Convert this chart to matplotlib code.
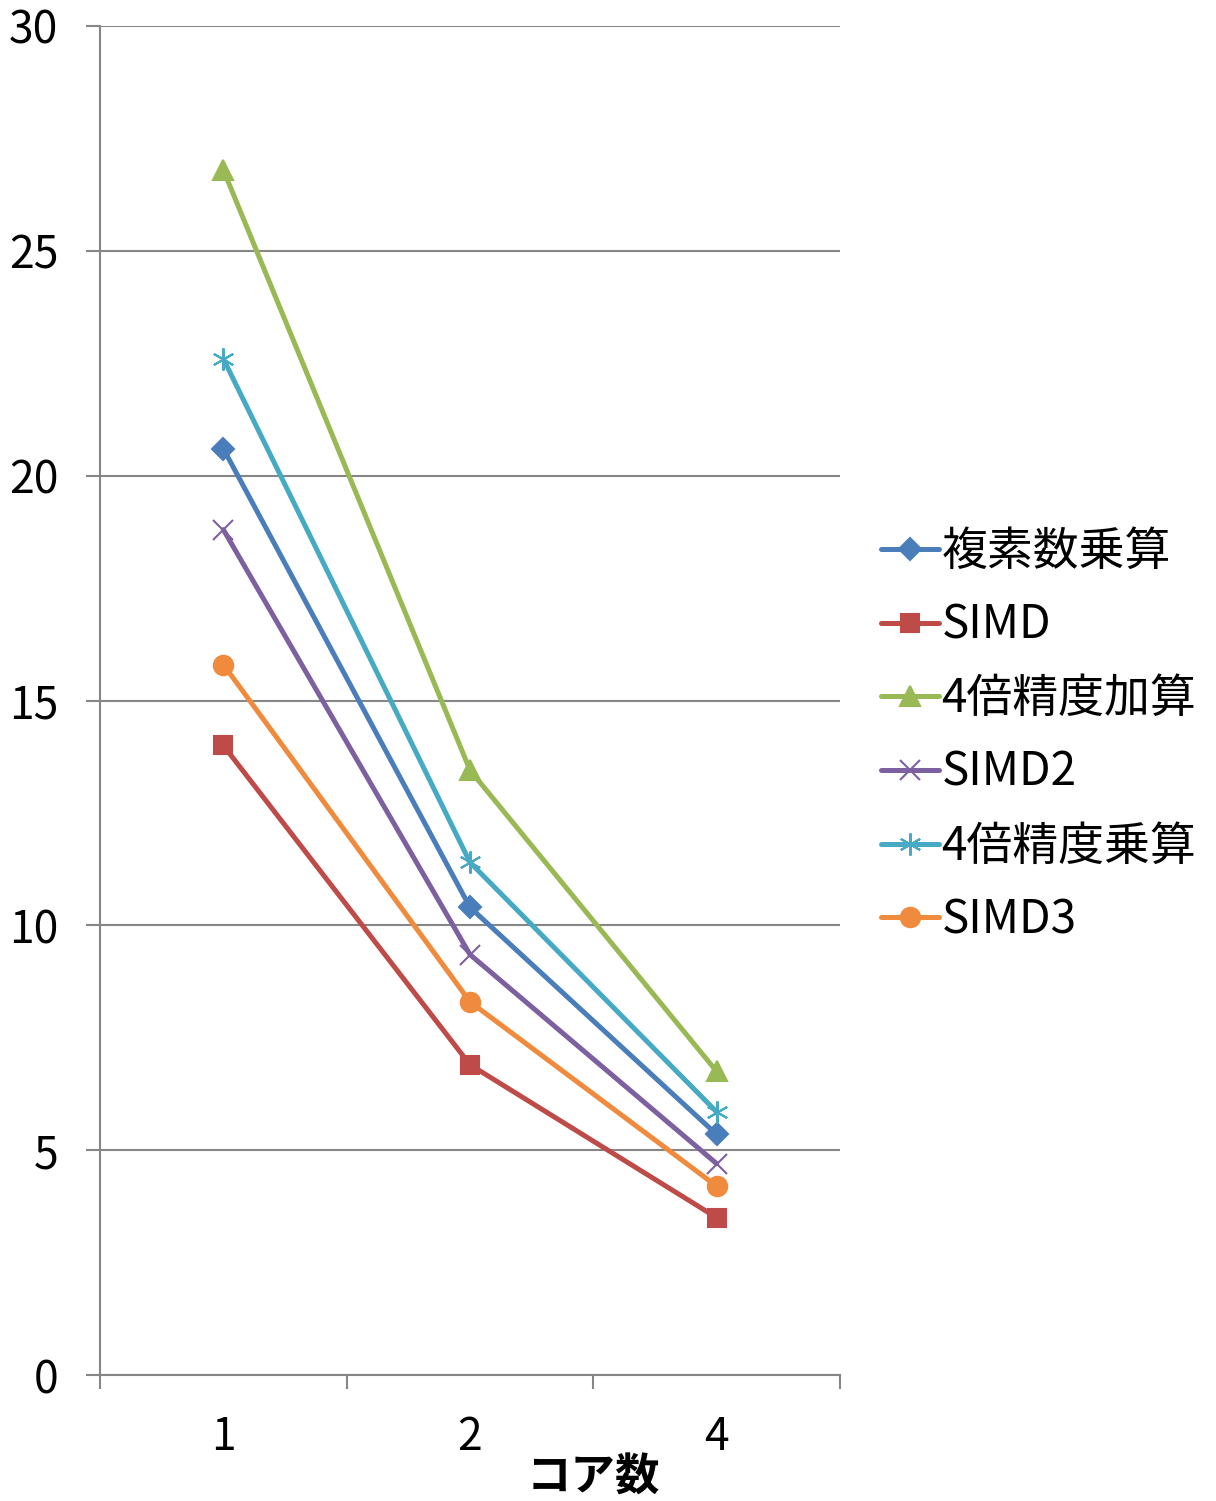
import matplotlib.pyplot as plt

plt.rcParams["font.family"] = ["Noto Sans CJK JP", "DejaVu Sans"]

cores = ["1", "2", "4"]
series_names = ["複素数乗算", "SIMD", "4倍精度加算", "SIMD2", "4倍精度乗算", "SIMD3"]
complex_mul = [20.6, 10.4, 5.35]
simd = [14.0, 6.9, 3.5]
quad_add = [26.8, 13.45, 6.75]
simd2 = [18.8, 9.35, 4.7]
quad_mul = [22.6, 11.4, 5.85]
simd3 = [15.8, 8.3, 4.2]

colors = ["#4a7ebb", "#be4b48", "#98b954", "#7d60a0", "#46aac5", "#f08a3c"]
markers = ["D", "s", "^", "x", (6, 2, 0), "o"]
sizes = [11, 13, 14, 14, 16, 14]
grid_color = "#868686"

fig = plt.figure(figsize=(12.16, 15.01), dpi=100)
ax = fig.add_axes([100 / 1216, 126 / 1501, 740 / 1216, 1349 / 1501])

xs = range(len(cores))
for name, vals, c, m, s in zip(
    series_names,
    [complex_mul, simd, quad_add, simd2, quad_mul, simd3],
    colors, markers, sizes,
):
    ax.plot(xs, vals, color=c, lw=3.6, marker=m, ms=s, mew=1.5,
            mfc=c, mec=c, label=name, solid_capstyle="round", zorder=3)

ax.set_ylim(0, 30)
ax.set_yticks(range(0, 31, 5))
ax.set_xlim(-0.5, 2.5)
ax.set_xticks([-0.5, 0.5, 1.5, 2.5])
ax.set_xticklabels([])
ax.set_xticks(list(xs), minor=True)
ax.set_xticklabels(cores, minor=True)

ax.grid(axis="y", color=grid_color, lw=1.5)
ax.set_axisbelow(True)
for side in ("top", "right"):
    ax.spines[side].set_visible(False)
for side in ("left", "bottom"):
    ax.spines[side].set_color(grid_color)
    ax.spines[side].set_linewidth(1.5)

ax.tick_params(axis="y", which="major", length=10, width=1.5, color=grid_color,
               labelsize=32, pad=20)
ax.tick_params(axis="x", which="major", length=10, width=1.5, color=grid_color)
ax.tick_params(axis="x", which="minor", length=0, labelsize=32, pad=28)

ax.set_xlabel("コア数", fontsize=32, fontweight="bold")
ax.xaxis.set_label_coords(493 / 740, -80 / 1349)

fig.legend(loc="upper left", bbox_to_anchor=(863 / 1216, 1 - 509 / 1501),
           frameon=False, fontsize=33, handlelength=1.25, handletextpad=0.06,
           labelspacing=0.55, borderaxespad=0)

fig.savefig("out.png", dpi=100)
